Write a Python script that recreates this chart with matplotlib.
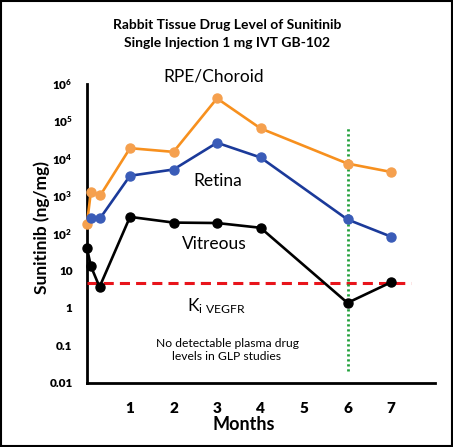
import matplotlib
matplotlib.use("Agg")
import matplotlib.pyplot as plt
from matplotlib.patches import Rectangle

# data (months, ng/mg)
rpe_x = [0.01, 0.1, 0.32, 1, 2, 3, 4, 6, 7]
rpe_y = [175, 1250, 1030, 18600, 14800, 400000, 63000, 7200, 4300]
retina_x = [0.1, 0.32, 1, 2, 3, 4, 6, 7]
retina_y = [255, 255, 3400, 5000, 26000, 10500, 230, 80]
vit_x = [0.01, 0.1, 0.3, 1, 2, 3, 4, 6, 7]
vit_y = [40, 13, 3.6, 270, 190, 185, 138, 1.35, 4.8]
ki_vegfr = 4.5
marker_month = 6

x_ticks = [1, 2, 3, 4, 5, 6, 7]
y_ticks = [0.01, 0.1, 1, 10, 1e2, 1e3, 1e4, 1e5, 1e6]
y_labels = ["0.01", "0.1", "1", "10", "10$^{2}$", "10$^{3}$", "10$^{4}$", "10$^{5}$", "10$^{6}$"]

plt.rcParams["font.family"] = ["Lato", "DejaVu Sans"]
plt.rcParams["mathtext.fontset"] = "custom"
plt.rcParams["mathtext.rm"] = "Lato"
plt.rcParams["mathtext.bf"] = "Lato:bold"
plt.rcParams["mathtext.default"] = "regular"

W, H = 453, 447
fig = plt.figure(figsize=(W / 100, H / 100), dpi=100)
ax = fig.add_axes([86.5 / W, 1 - 382.5 / H, 348 / W, 299 / H])

orange, orange_m = "#F7901E", "#F5A04E"
blue, blue_m = "#1B3A9A", "#3A5CB8"

ax.plot(rpe_x, rpe_y, "-o", color=orange, mfc=orange_m, mec=orange_m, lw=1.9, ms=6.5, clip_on=False, zorder=4)
ax.plot(retina_x, retina_y, "-o", color=blue, mfc=blue_m, mec=blue_m, lw=1.9, ms=6.5, clip_on=False, zorder=4)
ax.plot(vit_x, vit_y, "-o", color="black", lw=1.9, ms=6.5, clip_on=False, zorder=5)

ax.hlines(ki_vegfr, 0, 7.45, colors="#E8141B", lw=2.2, linestyles=(0, (3.3, 2.0)), zorder=3)
ax.vlines(marker_month, 0.02, 6.3e4, colors="#1FA03A", lw=2.0, linestyles=(0, (0.8, 1.0)), zorder=3)

ax.set_yscale("log")
ax.set_xlim(0, 8)
ax.set_ylim(0.01, 1e6)
ax.set_xticks(x_ticks)
ax.set_xticklabels([str(t) for t in x_ticks], fontsize=11, fontweight="heavy")
ax.set_yticks(y_ticks)
ax.set_yticklabels(y_labels, fontsize=8.5, fontweight="heavy")
ax.minorticks_off()
ax.tick_params(axis="x", length=0, pad=14)
ax.tick_params(axis="y", length=0, pad=10)
for s in ["top", "right"]:
    ax.spines[s].set_visible(False)
for s in ["left", "bottom"]:
    ax.spines[s].set_linewidth(2)

def ftext(px, py, s, **kw):
    fig.text(px / W, 1 - py / H, s, ha="center", va="center", **kw)

ftext(227, 25, "Rabbit Tissue Drug Level of Sunitinib", fontsize=10, fontweight="bold")
ftext(227, 43, "Single Injection 1 mg IVT GB-102", fontsize=10, fontweight="bold")
ftext(214, 77, "RPE/Choroid", fontsize=12.5)
ftext(218, 181, "Retina", fontsize=12.5)
ftext(214, 244, "Vitreous", fontsize=12.5)
ftext(217, 306, r"K$_{\rm i\ VEGFR}$", fontsize=12.5)
ftext(227, 350, "No detectable plasma drug\nlevels in GLP studies", fontsize=8.7, linespacing=1.25)
ftext(42, 228, "Sunitinib (ng/mg)", fontsize=12.5, fontweight="bold", rotation=90)
ftext(244, 425, "Months", fontsize=13, fontweight="bold")

fig.patches.append(Rectangle((0.002, 0.002), 0.996, 0.996, transform=fig.transFigure,
                             fill=False, edgecolor="black", lw=1.5))

fig.savefig("out.png", dpi=100)
